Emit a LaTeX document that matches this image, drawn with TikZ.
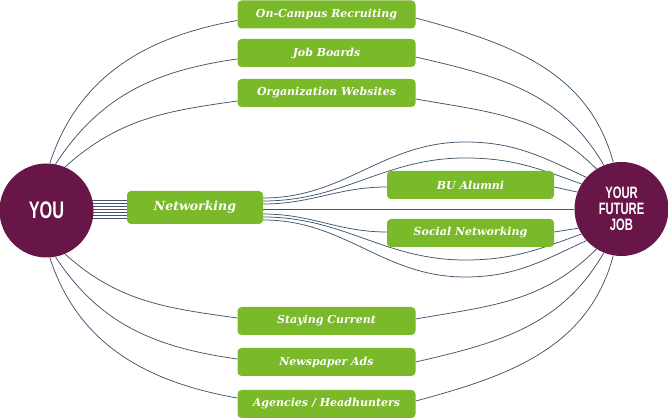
\documentclass[tikz,border=0pt]{standalone}
\usepackage{fontspec}
\usetikzlibrary{backgrounds}

\newfontfamily\bubblefont[FakeStretch=0.68]{Liberation Sans}
\newfontfamily\pathfont{DejaVu Serif}

\definecolor{leafgreen}{RGB}{122,185,41}
\definecolor{plum}{RGB}{104,21,72}
\definecolor{slate}{RGB}{64,84,106}

\begin{document}
\begin{tikzpicture}[
    x=1pt, y=1pt,
    bubble/.style={circle, fill=plum, text=white, minimum size=94pt,
        inner sep=0pt, align=center},
    route/.style={fill=leafgreen, rounded corners=4pt, text=white,
        minimum width=178pt, minimum height=28pt, inner sep=0pt,
        font=\pathfont\bfseries\itshape\fontsize{11}{13}\selectfont},
    link/.style={draw=slate, line width=0.75pt},
]
\useasboundingbox (0,0) rectangle (668,419);

% =============================================================================
% Start and goal
% =============================================================================
\node[bubble, font=\bubblefont\bfseries\fontsize{24}{24}\selectfont]
    (you) at (46.5,208.5) {YOU};
\node[bubble, font=\bubblefont\bfseries\fontsize{16.5}{16}\selectfont]
    (job) at (621.5,210) {YOUR\\FUTURE\\JOB};

% =============================================================================
% Channels
% =============================================================================
\node[route] (campus)   at (326.5,404.5) {On-Campus Recruiting};
\node[route] (boards)   at (326.5,366)   {Job Boards};
\node[route] (websites) at (326.5,326)   {Organization Websites};
\node[route] (current)  at (326.5,98)    {Staying Current};
\node[route] (ads)      at (326.5,57)    {Newspaper Ads};
\node[route] (agencies) at (326.5,15)    {Agencies / Headhunters};

\node[route, minimum width=136pt, minimum height=33pt,
    font=\pathfont\bfseries\itshape\fontsize{12.5}{14}\selectfont]
    (networking) at (195,211.5) {Networking};
\node[route, minimum width=167pt] (alumni) at (470.5,234) {BU Alumni};
\node[route, minimum width=167pt] (social) at (470.5,186) {Social Networking};

% crests of the lines passing round the networking boxes
\coordinate (crestA)  at (465,277);
\coordinate (crestB)  at (465,261);
\coordinate (troughB) at (465,159);
\coordinate (troughA) at (465,142);

% =============================================================================
% Links
% =============================================================================
\begin{scope}[on background layer]
    % Upper channels
    \draw[link] (you.86) to[out=72, in=190] ([yshift=-6pt]campus.west);
    \draw[link] (you.79) to[out=57, in=188] ([yshift=-6pt]boards.west);
    \draw[link] (you.67) to[out=42, in=188] ([yshift=-8pt]websites.west);
    \draw[link] ([yshift=-3.5pt]campus.east) to[out=-15, in=105] (job.100);
    \draw[link] ([yshift=-4pt]boards.east) to[out=-13, in=120] (job.112);
    \draw[link] ([yshift=-6pt]websites.east) to[out=-10, in=135] (job.122);

    % Lower channels
    \draw[link] (you.-67) to[out=-42, in=172] ([yshift=3pt]current.west);
    \draw[link] (you.-79) to[out=-57, in=172] ([yshift=3pt]ads.west);
    \draw[link] (you.-86) to[out=-72, in=170] ([yshift=6pt]agencies.west);
    \draw[link] ([yshift=2pt]current.east) to[out=10, in=-135] (job.-122);
    \draw[link] (ads.east) to[out=13, in=-120] (job.-112);
    \draw[link] ([yshift=3pt]agencies.east) to[out=15, in=-105] (job.-100);

    % Networking bundle
    \foreach \y in {201,204,...,219} {
        \draw[link] (you.center |- 0,\y) -- (networking.west |- 0,\y);
    }
    \draw[link] (networking.east |- job.west) -- (job.west);
    \draw[link] (networking.east |- 0,215) to[out=0, in=180] ([yshift=-2pt]alumni.west);
    \draw[link] ([yshift=-2pt]alumni.east) -- (job.159);
    \draw[link] (networking.east |- 0,205) to[out=0, in=180] ([yshift=1pt]social.west);
    \draw[link] ([yshift=1pt]social.east) -- (job.204);
    \draw[link] (networking.east |- 0,221) to[out=0, in=180] (crestA)
        to[out=0, in=155] (job.138);
    \draw[link] (networking.east |- 0,218) to[out=0, in=180] (crestB)
        to[out=0, in=160] (job.148);
    \draw[link] (networking.east |- 0,202) to[out=0, in=180] (troughB)
        to[out=0, in=-160] (job.212);
    \draw[link] (networking.east |- 0,199) to[out=0, in=180] (troughA)
        to[out=0, in=-155] (job.222);
\end{scope}

\end{tikzpicture}
\end{document}
